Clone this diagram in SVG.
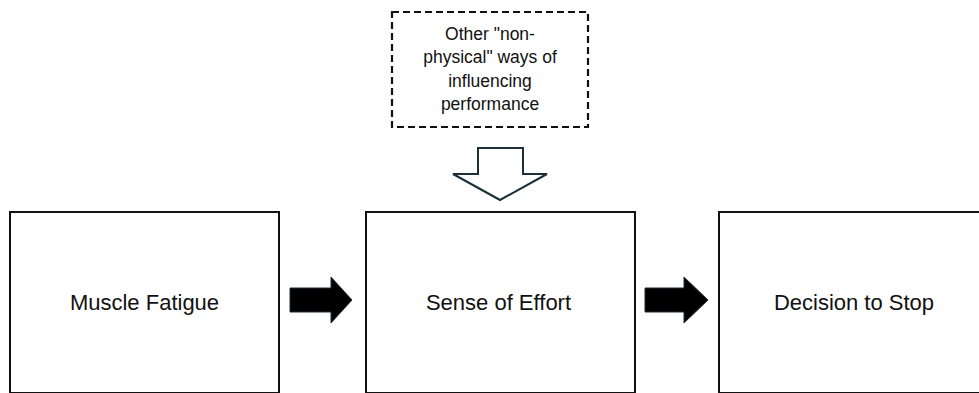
<svg xmlns="http://www.w3.org/2000/svg" width="979" height="393" viewBox="0 0 979 393">
<style>
.box{fill:#fff;stroke:#111;stroke-width:2}
.lbl{font-family:"Liberation Sans",Arial,sans-serif;font-size:22px;fill:#111;text-anchor:middle}
.small{font-family:"Liberation Sans",Arial,sans-serif;font-size:17.5px;fill:#111;text-anchor:middle}
.solid{fill:#000;stroke:#1a2f3a;stroke-width:1}
</style>
<rect width="979" height="393" fill="#fff"/>
<g id="other">
<rect x="392" y="12" width="196" height="115" fill="#fff" stroke="#111" stroke-width="2.2" stroke-dasharray="7,4"/>
<text class="small" x="490" y="39.5">Other "non-</text>
<text class="small" x="490" y="63">physical" ways of</text>
<text class="small" x="490" y="86.5">influencing</text>
<text class="small" x="490" y="110">performance</text>
</g>
<g id="muscle">
<rect class="box" x="10" y="212" width="269" height="181"/>
<text class="lbl" x="144.5" y="310">Muscle Fatigue</text>
</g>
<g id="effort">
<rect class="box" x="366" y="212" width="269" height="181"/>
<text class="lbl" x="498.5" y="310">Sense of Effort</text>
</g>
<g id="decision">
<rect class="box" x="719" y="212" width="270" height="181"/>
<text class="lbl" x="854" y="310">Decision to Stop</text>
</g>
<g id="connectors">
<polygon class="solid" points="290,288 331,288 331,277 352,300 331,323 331,312 290,312"/>
<polygon class="solid" points="645,288 684,288 684,277 708,300 684,323 684,312 645,312"/>
<polygon fill="#fff" stroke="#1a2f3a" stroke-width="2" points="478,148 523,148 523,174 547,174 500,200 453,174 478,174"/>
</g>
</svg>
